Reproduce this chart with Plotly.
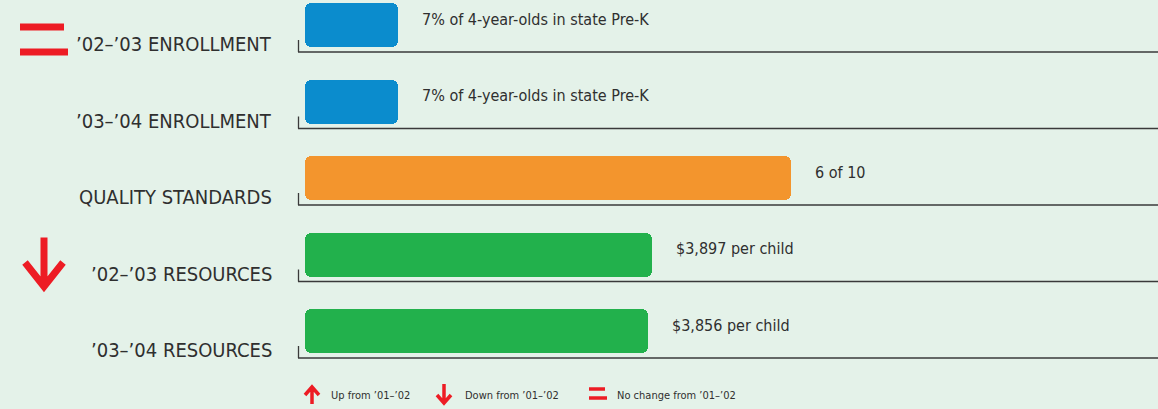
import plotly.graph_objects as go

# ---- data ----
categories = ["’02–’03 ENROLLMENT", "’03–’04 ENROLLMENT", "QUALITY STANDARDS",
              "’02–’03 RESOURCES", "’03–’04 RESOURCES"]
values = [7, 7, 6, 3897, 3856]
scale_max = [65, 65, 10.6, 9650, 9650]
value_labels = ["7% of 4-year-olds in state Pre-K", "7% of 4-year-olds in state Pre-K",
                "6 of 10", "$3,897 per child", "$3,856 per child"]
change = ["same", None, None, "down", None]
legend_labels = ["Up from ’01–’02", "Down from ’01–’02", "No change from ’01–’02"]

BLUE, ORANGE, GREEN, RED = "#0b8ccd", "#f3952d", "#22b14c", "#ed1c24"
bar_colors = [BLUE, BLUE, ORANGE, GREEN, GREEN]
BG = "#e4f2e9"
TXT = "#2f2f2f"
FONT = "Liberation Sans Narrow, DejaVu Sans Condensed, Arial Narrow, sans-serif"

W, H = 1158, 409
X0 = 300          # pixel where x=0
XU = 858          # pixels per x unit
Y0 = 25           # pixel of row 0 centre
YU = 76.5         # pixels per row

def px(xp):
    return (xp - X0) / XU

def py(yp):
    return (yp - Y0) / YU

rows = list(range(len(categories)))
fracs = [v / m for v, m in zip(values, scale_max)]

fig = go.Figure()
fig.add_trace(go.Bar(
    x=fracs, y=rows, orientation="h", base=0.006,
    width=44 / YU,
    marker=dict(color=bar_colors, cornerradius=6, line=dict(width=0)),
    hoverinfo="skip",
))

shapes = []
annotations = []
for i, (cat, lab, f) in enumerate(zip(categories, value_labels, fracs)):
    base_y = i + 27 / YU
    shapes.append(dict(type="line", xref="x", yref="y", x0=px(298), x1=px(W + 5),
                       y0=base_y, y1=base_y, line=dict(color="#3a3a3a", width=1.6)))
    shapes.append(dict(type="line", xref="x", yref="y", x0=px(298.5), x1=px(298.5),
                       y0=base_y, y1=base_y - 12 / YU, line=dict(color="#3a3a3a", width=1.3)))
    annotations.append(dict(x=px(274), y=base_y - 8 / YU, xref="x", yref="y",
                            text=cat, showarrow=False, xanchor="right", yanchor="middle",
                            font=dict(family=FONT, size=20, color=TXT)))
    annotations.append(dict(x=f + 0.006, y=i - 6 / YU, xref="x", yref="y",
                            text=lab, showarrow=False, xanchor="left", yanchor="middle",
                            xshift=22, font=dict(family=FONT, size=16, color=TXT)))

def eq_icon(x1, x2, ya, yb, w):
    return [dict(type="line", xref="x", yref="y", x0=px(x1), x1=px(x2), y0=py(ya), y1=py(ya),
                 line=dict(color=RED, width=w)),
            dict(type="line", xref="x", yref="y", x0=px(x1), x1=px(x2 + 4 * w / 7), y0=py(yb), y1=py(yb),
                 line=dict(color=RED, width=w))]

def arrow_icon(cx, ytip, ytail, hw, hh, w):
    d = 1 if ytip > ytail else -1
    path = (f"M {px(cx)} {py(ytail)} L {px(cx)} {py(ytip)} "
            f"M {px(cx - hw)} {py(ytip - d * hh)} L {px(cx)} {py(ytip)} L {px(cx + hw)} {py(ytip - d * hh)}")
    return [dict(type="path", xref="x", yref="y", path=path,
                 line=dict(color=RED, width=w))]

for i, c in enumerate(change):
    base_px = Y0 + i * YU + 27
    if c == "same":
        shapes += eq_icon(20, 64, base_px - 25, base_px, 7)
    elif c == "down":
        shapes += arrow_icon(44, base_px + 5, base_px - 44, 19, 24, 7)
    elif c == "up":
        shapes += arrow_icon(44, base_px - 44, base_px + 5, 19, 24, 7)

# legend
shapes += arrow_icon(312, 387, 404, 7, 8, 3.5)
shapes += arrow_icon(444, 403, 384, 7, 8, 3.5)
shapes += eq_icon(589, 605, 389, 398, 3.5)
for xl, t in zip([329, 463, 615], legend_labels):
    annotations.append(dict(x=px(xl), y=py(395), xref="x", yref="y", text=t,
                            showarrow=False, xanchor="left", yanchor="middle",
                            font=dict(family=FONT, size=11, color=TXT)))

fig.update_layout(
    width=W, height=H,
    margin=dict(l=0, r=0, t=0, b=0),
    paper_bgcolor=BG, plot_bgcolor=BG,
    showlegend=False,
    bargap=0,
    xaxis=dict(range=[px(0), px(W)], visible=False, fixedrange=True),
    yaxis=dict(range=[py(H), py(0)], visible=False, fixedrange=True),
    shapes=shapes, annotations=annotations,
)

fig.write_html("out.html", config={"displayModeBar": False},
               post_script="document.body.style.margin='0';document.body.style.overflow='hidden';")
